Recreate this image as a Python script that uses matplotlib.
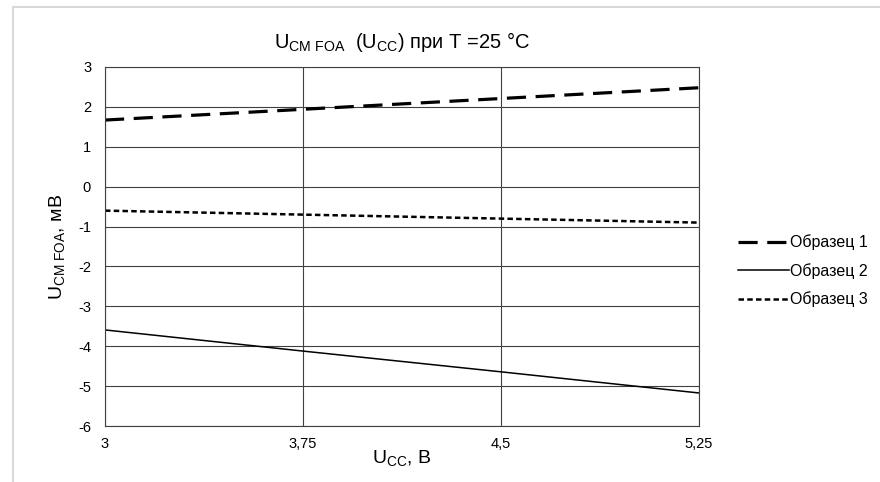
import matplotlib.pyplot as plt
from matplotlib.lines import Line2D

plt.rcParams['font.family'] = ['Liberation Sans', 'DejaVu Sans']
plt.rcParams['mathtext.fontset'] = 'custom'
plt.rcParams['mathtext.rm'] = 'Liberation Sans'
plt.rcParams['mathtext.it'] = 'Liberation Sans'
plt.rcParams['axes.unicode_minus'] = False

# Data
ucc = [3, 3.75, 4.5, 5.25]
ucc_labels = ['3', '3,75', '4,5', '5,25']
sample1 = [1.67, 1.94, 2.21, 2.48]
sample2 = [-3.59, -4.12, -4.64, -5.17]
sample3 = [-0.60, -0.70, -0.80, -0.90]
labels = ['Образец 1', 'Образец 2', 'Образец 3']

fig = plt.figure(figsize=(8.8, 4.82), dpi=100)
ax = fig.add_axes([0.1193, 0.116, 0.675, 0.745])

ax.plot(ucc, sample1, color='black', lw=2.3, dashes=(6, 3), label=labels[0])
ax.plot(ucc, sample2, color='black', lw=1.1, label=labels[1])
ax.plot(ucc, sample3, color='black', lw=1.8, dashes=(2.2, 1.3), label=labels[2])

ax.set_xlim(3, 5.25)
ax.set_ylim(-6, 3)
ax.set_xticks(ucc)
ax.set_xticklabels(ucc_labels)
ax.set_yticks(range(-6, 4))
ax.tick_params(axis='both', length=0, labelsize=10.5)
ax.tick_params(axis='x', pad=8)
ax.tick_params(axis='y', pad=10)
ax.grid(True, color='#404040', lw=0.8)
for s in ax.spines.values():
    s.set_color('#404040')
    s.set_linewidth(0.8)

ax.set_title(r'$\mathregular{U_{CM\ FOA}}$  $\mathregular{(U_{CC})}$ при T =25 °C',
             fontsize=14.5, pad=14)
ax.set_xlabel(r'$\mathregular{U_{CC}}$, В', fontsize=14, labelpad=-2)
ax.set_ylabel(r'$\mathregular{U_{CM\ FOA}}$, мВ', fontsize=14, labelpad=8)

ax.legend(loc='center left', bbox_to_anchor=(0.822, 0.438), bbox_transform=fig.transFigure,
          frameon=False, fontsize=11.5, handlelength=3.2, handletextpad=0.05,
          labelspacing=0.8)

# light frame around the chart area
fig.add_artist(Line2D([12.5 / 880, 12.5 / 880], [0, 1 - 7 / 482], color='#d9d9d9', lw=1.5,
                      transform=fig.transFigure))
fig.add_artist(Line2D([12.5 / 880, 1], [1 - 7 / 482, 1 - 7 / 482], color='#d9d9d9', lw=1.5,
                      transform=fig.transFigure))

plt.savefig('out.png', dpi=100)
